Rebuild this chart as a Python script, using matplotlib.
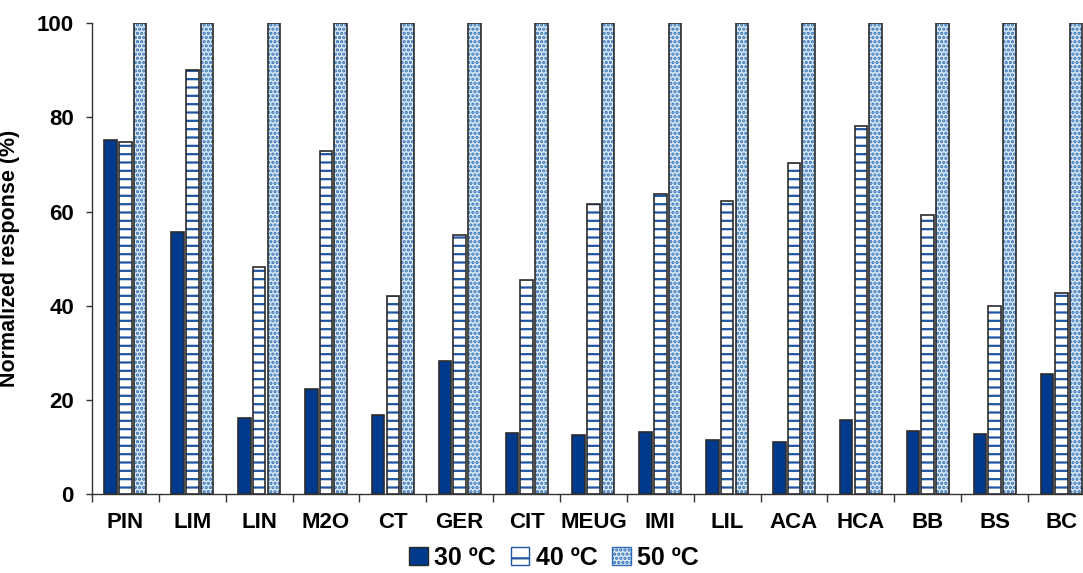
import numpy as np
import matplotlib
matplotlib.use("Agg")
import matplotlib.pyplot as plt
from matplotlib.patches import Patch
from matplotlib.ticker import FixedLocator

plt.rcParams['font.family'] = ['Liberation Sans', 'DejaVu Sans']
plt.rcParams['hatch.linewidth'] = 1.6

compounds = ["PIN", "LIM", "LIN", "M2O", "CT", "GER", "CIT", "MEUG", "IMI",
             "LIL", "ACA", "HCA", "BB", "BS", "BC"]
resp_30 = [75.3, 55.7, 16.3, 22.3, 16.8, 28.2, 13.0, 12.5, 13.2, 11.6, 11.2,
           15.7, 13.4, 12.8, 25.5]
resp_40 = [74.9, 90.0, 48.3, 72.9, 42.2, 55.0, 45.6, 61.7, 63.7, 62.3, 70.4,
           78.1, 59.2, 40.0, 42.7]
resp_50 = [100, 100, 100, 100, 100, 100, 100, 100, 100, 100, 100, 100, 100,
           100, 100]
series_labels = ["30 ºC", "40 ºC", "50 ºC"]

W, H = 1083, 573
fig = plt.figure(figsize=(W / 100, H / 100), dpi=100)
ax_left, ax_right = 92, 92 + 15 * 66.86
ax_top, ax_bot = 23.3, 494.3
ax = fig.add_axes([ax_left / W, 1 - ax_bot / H,
                   (ax_right - ax_left) / W, (ax_bot - ax_top) / H])

x = np.arange(len(compounds))
bw = 0.187
step = 0.22
edge = "#2b2b2b"
navy = "#003a8c"
stripe = "#1f56a3"
dot = "#2f6fb8"
pale = "#dce9f6"

# 30 ºC: solid navy
ax.bar(x - step, resp_30, bw, color=navy, edgecolor=edge, linewidth=1.2, zorder=3)

# 40 ºC: white with horizontal blue stripes
ax.bar(x, resp_40, bw, color="white", edgecolor=stripe, hatch="--",
       linewidth=0, zorder=3)
ax.bar(x, resp_40, bw, fill=False, edgecolor=edge, linewidth=1.2, zorder=4)

# 50 ºC: pale blue with fine dots
ax.bar(x + step, resp_50, bw, color=pale, edgecolor=dot, hatch="....",
       linewidth=0, zorder=3)
ax.bar(x + step, resp_50, bw, fill=False, edgecolor=edge, linewidth=1.2, zorder=4)

ax.set_xlim(-0.5, len(compounds) - 0.5)
ax.set_ylim(0, 100)
ax.set_yticks([0, 20, 40, 60, 80, 100])
ax.set_xticks(x)
ax.set_xticklabels(compounds, fontsize=16, fontweight="bold")
ax.xaxis.set_minor_locator(FixedLocator(np.arange(-0.5, len(compounds), 1.0)))
ax.tick_params(axis="x", which="major", length=0, pad=13)
ax.tick_params(axis="x", which="minor", length=6, width=1, color="#333333",
               direction="out")
ax.tick_params(axis="y", length=4, width=1, color="#333333", direction="out",
               labelsize=16, pad=9)
for lab in ax.get_yticklabels():
    lab.set_fontweight("bold")

for s in ["top", "right"]:
    ax.spines[s].set_visible(False)
for s in ["left", "bottom"]:
    ax.spines[s].set_color("#333333")
    ax.spines[s].set_linewidth(1.0)

ax.set_ylabel("Normalized response (%)", fontsize=15.5, fontweight="bold")
ax.yaxis.set_label_coords((20 - ax_left) / (ax_right - ax_left), 0.5)

handles = [
    Patch(facecolor=navy, edgecolor=edge, linewidth=1.0),
    Patch(facecolor="white", edgecolor=stripe, hatch="-", linewidth=1.0),
    Patch(facecolor=pale, edgecolor=dot, hatch="....", linewidth=1.0),
]
leg = fig.legend(handles, series_labels, loc="center", ncol=3,
                 bbox_to_anchor=(554 / W, 1 - 558 / H), frameon=False,
                 prop={"size": 18, "weight": "bold"}, handlelength=0.75,
                 handleheight=0.75, handletextpad=0.25, columnspacing=0.6)

fig.savefig("out.png", dpi=100)
